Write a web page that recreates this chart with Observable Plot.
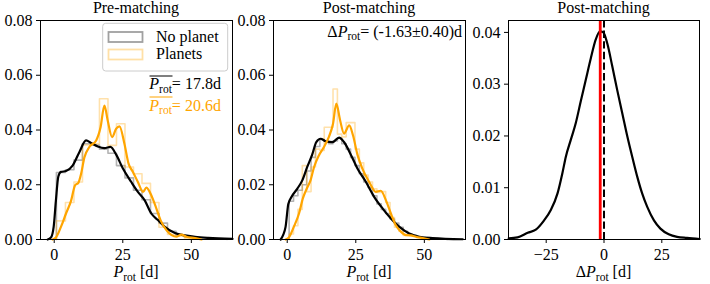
<!DOCTYPE html>
<html><head><meta charset="utf-8">
<script src="https://cdn.jsdelivr.net/npm/d3@7"></script>
<script src="https://cdn.jsdelivr.net/npm/@observablehq/plot@0.6"></script>
<style>
html,body{margin:0;padding:0;background:white;}
#chart{position:relative;width:710px;height:284px;overflow:hidden;background:white;font-family:"Liberation Serif", serif;}
#chart > svg{position:absolute;top:0;}
#chart svg text{font-family:"Liberation Serif", serif !important;}
</style></head><body><div id="chart"></div>
<script>
// ---------- DATA ----------
const titles = ["Pre-matching", "Post-matching", "Post-matching"];
const legendLabels = ["No planet", "Planets"];
const meanNoPlanet = "17.8d";
const meanPlanets = "20.6d";
const deltaText = "(-1.63\u00b10.40)d";
const deltaValue = -1.63;

const xTicksP = [0, 25, 50];
const yTicksP = [0, 0.02, 0.04, 0.06, 0.08];
const xTicksD = [-25, 0, 25];
const yTicksD = [0, 0.01, 0.02, 0.03, 0.04];

// Panel 1 (pre-matching) histograms
const preEdges = [0.8, 4.1, 7.2, 10.3, 13.4, 16.5, 19.6, 22.7, 25.8, 28.9, 32.0, 35.1, 38.2, 41.3, 44.4, 47.5, 50.6, 53.7, 56.8, 59.9, 63.0];
const preHistNoPlanet = [0.0245, 0.0255, 0.029, 0.035, 0.0345, 0.033, 0.0315, 0.027, 0.0225, 0.018, 0.0145, 0.0095, 0.006, 0.003, 0.0016, 0.0009, 0.0005, 0.0004, 0.0002, 0.0002];
const preHistPlanets = [0.0068, 0.0135, 0.021, 0.0345, 0.035, 0.0514, 0.0344, 0.0423, 0.0265, 0.024, 0.0205, 0.0135, 0.0045, 0.0018, 0.0012, 0.0005];

// Panel 1 KDE
const preKdeNoPlanetX = [-2.4, -1.2, -0.2, 0.6, 1.5, 2.45, 4.3, 6.7, 9.2, 11.6, 13.4, 15.9, 18.3, 20.5, 22.6, 25.0, 28.1, 30.5, 33.0, 35.4, 37.9, 40.3, 44.0, 47.6, 51.3, 56.1, 65];
const preKdeNoPlanetY = [0, 0.0007, 0.0046, 0.014, 0.023, 0.0247, 0.025, 0.027, 0.032, 0.0362, 0.0353, 0.034, 0.0334, 0.0338, 0.031, 0.026, 0.021, 0.0174, 0.0143, 0.0095, 0.007, 0.0046, 0.0024, 0.0015, 0.001, 0.0006, 0.0002];
const preKdePlanetsX = [-0.6, 0.6, 2.45, 4.3, 6.1, 7.6, 8.8, 9.8, 11.0, 12.8, 15.3, 16.9, 18.3, 19.5, 21.1, 22.6, 23.8, 25.6, 27.1, 28.7, 30.5, 32.4, 33.6, 34.8, 36.6, 38.8, 40.9, 42.8, 44.5, 46.4, 48.2, 51.3, 53.7];
const preKdePlanetsY = [0, 0.0007, 0.0046, 0.0095, 0.014, 0.0198, 0.0207, 0.024, 0.030, 0.0338, 0.0362, 0.041, 0.0489, 0.0435, 0.0374, 0.0405, 0.0413, 0.035, 0.0277, 0.0247, 0.021, 0.0174, 0.019, 0.0174, 0.0131, 0.007, 0.0034, 0.0016, 0.001, 0.0018, 0.001, 0.0005, 0];

// Panel 2 (post-matching) histograms
const postEdges = [0.7, 2.3, 3.9, 5.5, 7.1, 8.7, 10.3, 11.9, 13.5, 15.1, 16.7, 18.3, 19.9, 21.5, 23.1, 24.7, 26.3, 27.9, 29.5, 31.1, 32.7, 34.3, 35.9, 37.5, 39.1, 40.7, 42.3, 43.9, 45.5, 47.1, 48.7, 50.3, 51.9, 53.5, 55.1, 56.7, 58.3];
const postHistNoPlanet = [0.014, 0.016, 0.018, 0.020, 0.025, 0.030, 0.034, 0.0365, 0.036, 0.035, 0.036, 0.037, 0.035, 0.033, 0.030, 0.027, 0.024, 0.021, 0.019, 0.016, 0.013, 0.011, 0.0095, 0.0075, 0.006, 0.0045, 0.003, 0.002, 0.0015, 0.001, 0.0008, 0.0006, 0.0004, 0.0003, 0.0002, 0.0002];
const postHistPlanets = [0.002, 0.005, 0.011, 0.027, 0.0175, 0.0265, 0.033, 0.0325, 0.041, 0.041, 0.055, 0.0385, 0.0375, 0.0427, 0.0427, 0.033, 0.028, 0.0235, 0.021, 0.0185, 0.0172, 0.0175, 0.0135, 0.008, 0.0045, 0.003, 0.0015, 0.0014, 0.0012, 0.0007, 0.0004];

// Panel 2 KDE
const postKdeNoPlanetX = [-2.4, -1.5, -0.6, 0.4, 1.6, 3.7, 5.5, 7.3, 9.1, 10.6, 12.2, 14.0, 16.5, 18.9, 20.7, 23.2, 25.6, 28.7, 31.7, 34.8, 37.8, 40.9, 44.5, 48.2, 53, 64];
const postKdeNoPlanetY = [0, 0.0016, 0.0046, 0.013, 0.0156, 0.0186, 0.0216, 0.0265, 0.031, 0.0356, 0.0368, 0.0359, 0.0356, 0.0372, 0.0356, 0.031, 0.0259, 0.021, 0.0156, 0.0113, 0.0077, 0.0046, 0.0022, 0.001, 0.0005, 0.0001];
const postKdePlanetsX = [-0.6, 0.6, 2.4, 4.3, 5.7, 7.3, 8.5, 9.8, 11.6, 13.4, 15.2, 16.7, 17.9, 19.3, 20.7, 22.6, 24.0, 25.6, 27.4, 29.9, 32.3, 34.1, 36.0, 37.8, 39.6, 41.5, 43.3, 45.1, 47.0, 49.4, 51.8];
const postKdePlanetsY = [0, 0.0007, 0.0046, 0.0095, 0.015, 0.019, 0.0216, 0.0265, 0.0308, 0.0338, 0.0375, 0.0423, 0.0496, 0.0435, 0.0387, 0.0417, 0.038, 0.031, 0.0259, 0.021, 0.0174, 0.0178, 0.0143, 0.0095, 0.0052, 0.0028, 0.0016, 0.0015, 0.001, 0.0005, 0];

// Panel 3 (delta P_rot) KDE
const deltaKdeX = [-41.2, -37.4, -33, -29.5, -25.9, -23, -20.1, -18, -16.5, -14.4, -12.2, -10.1, -7.9, -5.7, -3.6, -1.7, -0.3, 1.4, 3.6, 5.7, 7.9, 10.1, 12.2, 14.4, 16.5, 18.7, 21.6, 24.4, 28, 31.6, 35.9, 41.4];
const deltaKdeY = [0.0002, 0.0004, 0.0013, 0.0019, 0.0037, 0.0057, 0.0089, 0.0128, 0.016, 0.0192, 0.0225, 0.0266, 0.0308, 0.035, 0.0386, 0.0402, 0.04, 0.0379, 0.0334, 0.0289, 0.0244, 0.0199, 0.016, 0.0121, 0.0089, 0.0063, 0.0037, 0.0021, 0.001, 0.0005, 0.0003, 0.0001];

// ---------- HELPERS ----------
const FONT = "'Liberation Serif', serif";
const ORANGE = "#ffa500";
function steps(edges, heights) {
  const pts = [{x: edges[0], y: 0}];
  for (let i = 0; i < heights.length; i++) {
    pts.push({x: edges[i], y: heights[i]}, {x: edges[i + 1], y: heights[i]});
  }
  pts.push({x: edges[heights.length], y: 0});
  return pts;
}
function pairs(xs, ys) { return xs.map((x, i) => ({x, y: ys[i]})); }
const fmtX = d => d < 0 ? "\u2212" + Math.abs(d) : String(d);

function panel({left, marginLeft, marginRight, xDomain, xTicks, yDomain, yTicks, marks}) {
  const svg = Plot.plot({
    width: 240, height: 284,
    marginLeft, marginRight, marginTop: 20, marginBottom: 45,
    style: {fontFamily: FONT, fontSize: "16px", color: "black", background: "transparent", overflow: "visible"},
    x: {domain: xDomain, ticks: xTicks, tickFormat: fmtX, tickSize: 4, tickPadding: 5, label: null},
    y: {domain: yDomain, ticks: yTicks, tickFormat: d3.format(".2f"), tickSize: 4, tickPadding: 4, label: null},
    marks: [...marks, Plot.frame({stroke: "black", strokeWidth: 1})]
  });
  svg.setAttribute("font-family", FONT);
  svg.style.left = left + "px";
  document.getElementById("chart").appendChild(svg);
}

function histMarks(edges, hNo, hPl, kNoX, kNoY, kPlX, kPlY) {
  return [
    Plot.line(steps(edges, hNo), {x: "x", y: "y", stroke: "#808080", strokeOpacity: 0.6, strokeWidth: 1.6}),
    Plot.line(steps(edges, hPl), {x: "x", y: "y", stroke: ORANGE, strokeOpacity: 0.33, strokeWidth: 1.6}),
    Plot.line(pairs(kNoX, kNoY), {x: "x", y: "y", stroke: "black", strokeWidth: 2.2, curve: "monotone-x"}),
    Plot.line(pairs(kPlX, kPlY), {x: "x", y: "y", stroke: ORANGE, strokeWidth: 2.2, curve: "monotone-x"})
  ];
}

// ---------- PANELS ----------
panel({left: 0, marginLeft: 40, marginRight: 8, xDomain: [-5, 65], xTicks: xTicksP, yDomain: [0, 0.08], yTicks: yTicksP,
  marks: histMarks(preEdges, preHistNoPlanet, preHistPlanets, preKdeNoPlanetX, preKdeNoPlanetY, preKdePlanetsX, preKdePlanetsY)});
panel({left: 233, marginLeft: 40, marginRight: 8, xDomain: [-5, 65], xTicks: xTicksP, yDomain: [0, 0.08], yTicks: yTicksP,
  marks: histMarks(postEdges, postHistNoPlanet, postHistPlanets, postKdeNoPlanetX, postKdeNoPlanetY, postKdePlanetsX, postKdePlanetsY)});
panel({left: 468, marginLeft: 40, marginRight: 9, xDomain: [-41.3, 41.3], xTicks: xTicksD, yDomain: [0, 0.0423], yTicks: yTicksD,
  marks: [
    Plot.line(pairs(deltaKdeX, deltaKdeY), {x: "x", y: "y", stroke: "black", strokeWidth: 2.2, curve: "monotone-x"}),
    Plot.ruleX([deltaValue], {stroke: "red", strokeWidth: 2.8}),
    Plot.ruleX([0], {stroke: "black", strokeWidth: 2, strokeDasharray: "7.4,3.2"})
  ]});

// ---------- TEXT OVERLAY ----------
const ov = d3.select("#chart").append("svg")
  .attr("width", 710).attr("height", 284)
  .style("left", "0px").style("pointer-events", "none")
  .attr("font-family", FONT).attr("font-size", 16).attr("fill", "black");

function prot(text, {delta = false, after = ""}) {
  if (delta) text.append("tspan").text("\u0394");
  text.append("tspan").attr("font-style", "italic").text("P");
  text.append("tspan").attr("font-size", 11.5).attr("dy", 3.5).text("rot");
  text.append("tspan").attr("dy", -3.5).text(after);
  return text;
}

// titles
[136, 369, 603.5].forEach((cx, i) => {
  ov.append("text").attr("x", cx).attr("y", 13).attr("text-anchor", "middle").text(titles[i]);
});
// x labels
prot(ov.append("text").attr("x", 136).attr("y", 277).attr("text-anchor", "middle"), {after: " [d]"});
prot(ov.append("text").attr("x", 369).attr("y", 277).attr("text-anchor", "middle"), {after: " [d]"});
prot(ov.append("text").attr("x", 603.5).attr("y", 277).attr("text-anchor", "middle"), {delta: true, after: " [d]"});

// legend
ov.append("rect").attr("x", 102.7).attr("y", 23.3).attr("width", 125).attr("height", 47.7).attr("rx", 3)
  .attr("fill", "white").attr("fill-opacity", 0.8).attr("stroke", "#cccccc").attr("stroke-width", 1);
ov.append("rect").attr("x", 108.5).attr("y", 32).attr("width", 34).attr("height", 10)
  .attr("fill", "none").attr("stroke", "#808080").attr("stroke-opacity", 0.75).attr("stroke-width", 1.8);
ov.append("rect").attr("x", 108.5).attr("y", 49.5).attr("width", 34).attr("height", 10)
  .attr("fill", "none").attr("stroke", ORANGE).attr("stroke-opacity", 0.35).attr("stroke-width", 1.8);
ov.append("text").attr("x", 156).attr("y", 41.5).text(legendLabels[0]);
ov.append("text").attr("x", 156).attr("y", 58.5).text(legendLabels[1]);

// mean annotations
prot(ov.append("text").attr("x", 149.3).attr("y", 89), {after: "= " + meanNoPlanet});
ov.append("line").attr("x1", 149.5).attr("x2", 172.5).attr("y1", 76).attr("y2", 76).attr("stroke", "black").attr("stroke-width", 1);
prot(ov.append("text").attr("x", 149.3).attr("y", 110.5).attr("fill", ORANGE), {after: "= " + meanPlanets});
ov.append("line").attr("x1", 149.5).attr("x2", 172.5).attr("y1", 97).attr("y2", 97).attr("stroke", ORANGE).attr("stroke-width", 1);

// delta annotation
prot(ov.append("text").attr("x", 462).attr("y", 36.5).attr("text-anchor", "end"), {delta: true, after: "= " + deltaText});
</script>
</body></html>
